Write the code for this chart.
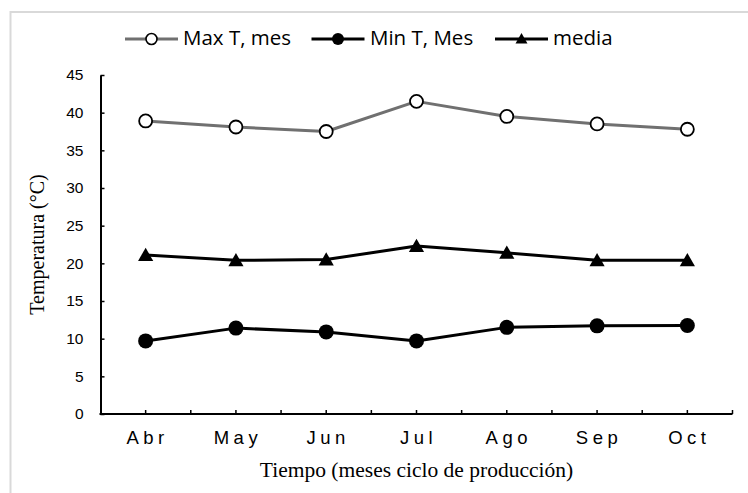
<!DOCTYPE html>
<html>
<head>
<meta charset="utf-8">
<script src="https://cdn.jsdelivr.net/npm/d3@7"></script>
<style>
  body { margin: 0; background: #fff; }
  svg { display: block; }
</style>
</head>
<body>
<div id="chart"></div>
<script>
const months = ['Abr', 'May', 'Jun', 'Jul', 'Ago', 'Sep', 'Oct']
const maxT = [38.9, 38.1, 37.5, 41.5, 39.5, 38.5, 37.8]
const minT = [9.7, 11.4, 10.9, 9.7, 11.5, 11.7, 11.75]
const media = [21.1, 20.4, 20.5, 22.3, 21.4, 20.4, 20.4]
const yTicks = [0, 5, 10, 15, 20, 25, 30, 35, 40, 45]

const width = 748
const height = 493
const margin = { top: 75, left: 100.5, right: 15.5, bottom: 79 }

const svg = d3
  .select('#chart')
  .append('svg')
  .attr('width', width)
  .attr('height', height)

// chart area frame (only top/left edges visible in the crop)
svg
  .append('rect')
  .attr('x', 10.5)
  .attr('y', 12)
  .attr('width', 760)
  .attr('height', 520)
  .attr('fill', 'none')
  .attr('stroke', '#d9d9d9')
  .attr('stroke-width', 2)

const x = d3
  .scaleBand()
  .domain(months)
  .range([margin.left, width - margin.right])

const y = d3
  .scaleLinear()
  .domain([0, 45])
  .range([height - margin.bottom, margin.top])

const cx = m => x(m) + x.bandwidth() / 2

// y axis
svg
  .append('g')
  .attr('transform', `translate(${margin.left},0)`)
  .call(
    d3
      .axisLeft(y)
      .tickValues(yTicks)
      .tickSizeInner(-4)
      .tickSizeOuter(0)
      .tickPadding(17)
  )
  .call(g => g.select('.domain').attr('stroke', '#000').attr('stroke-width', 2))
  .call(g => g.selectAll('.tick line').attr('stroke', '#000').attr('stroke-width', 1.5))
  .call(g =>
    g
      .selectAll('.tick text')
      .attr('font-family', 'Liberation Sans, Arial, sans-serif')
      .attr('font-size', 15.5)
      .attr('fill', '#000')
  )

// x axis line + ticks at band edges and centres
const x0 = y(0)
svg
  .append('line')
  .attr('x1', margin.left - 1)
  .attr('x2', width - margin.right)
  .attr('y1', x0)
  .attr('y2', x0)
  .attr('stroke', '#000')
  .attr('stroke-width', 2)

const tickXs = []
months.forEach(m => {
  tickXs.push(x(m) + x.bandwidth() / 2)
  tickXs.push(x(m) + x.bandwidth())
})
svg
  .selectAll('.xtick')
  .data(tickXs)
  .join('line')
  .attr('class', 'xtick')
  .attr('x1', d => d)
  .attr('x2', d => d)
  .attr('y1', x0)
  .attr('y2', x0 - 4)
  .attr('stroke', '#000')
  .attr('stroke-width', 1.5)

svg
  .selectAll('.xlabel')
  .data(months)
  .join('text')
  .attr('class', 'xlabel')
  .attr('x', d => cx(d) + 2)
  .attr('y', x0 + 30)
  .attr('text-anchor', 'middle')
  .attr('font-family', 'Liberation Sans, Arial, sans-serif')
  .attr('font-size', 18.5)
  .attr('letter-spacing', 4.5)
  .text(d => d)

// axis titles
svg
  .append('text')
  .attr('x', (margin.left + width - margin.right) / 2)
  .attr('y', 477)
  .attr('text-anchor', 'middle')
  .attr('font-family', 'Liberation Serif, Times New Roman, serif')
  .attr('font-size', 21.5)
  .text('Tiempo (meses ciclo de producción)')

svg
  .append('text')
  .attr('transform', `translate(44,${y(22.5)}) rotate(-90)`)
  .attr('text-anchor', 'middle')
  .attr('font-family', 'Liberation Serif, Times New Roman, serif')
  .attr('font-size', 20)
  .text('Temperatura (°C)')

// series
const series = [
  { name: 'Max T, mes', values: maxT, color: '#707070', marker: 'open' },
  { name: 'Min T, Mes', values: minT, color: '#000', marker: 'dot' },
  { name: 'media', values: media, color: '#000', marker: 'tri' }
]

const line = d3
  .line()
  .x((d, i) => cx(months[i]))
  .y(d => y(d))

const tri = d3.symbol(d3.symbolTriangle, 100)
const triSmall = d3.symbol(d3.symbolTriangle, 62)

function drawMarker(g, type, small) {
  if (type === 'open') {
    g.append('circle')
      .attr('r', small ? 5.5 : 6.5)
      .attr('fill', '#fff')
      .attr('stroke', '#000')
      .attr('stroke-width', small ? 1.6 : 1.8)
  } else if (type === 'dot') {
    g.append('circle').attr('r', small ? 6 : 7.5).attr('fill', '#000')
  } else {
    g.append('path')
      .attr('d', small ? triSmall() : tri())
      .attr('transform', `translate(0,${small ? 1 : 1.5})`)
      .attr('fill', '#000')
  }
}

series.forEach(s => {
  svg
    .append('path')
    .datum(s.values)
    .attr('d', line)
    .attr('fill', 'none')
    .attr('stroke', s.color)
    .attr('stroke-width', 3)
    .attr('stroke-linejoin', 'round')

  s.values.forEach((v, i) => {
    const g = svg
      .append('g')
      .attr('transform', `translate(${cx(months[i])},${y(v)})`)
    drawMarker(g, s.marker, false)
  })
})

// legend
const legendItems = [
  { x: 125, textX: 183 },
  { x: 311.5, textX: 370 },
  { x: 495, textX: 553 }
]
series.forEach((s, i) => {
  const item = legendItems[i]
  const g = svg.append('g')
  g.append('line')
    .attr('x1', item.x)
    .attr('x2', item.x + 53)
    .attr('y1', 39)
    .attr('y2', 39)
    .attr('stroke', s.color)
    .attr('stroke-width', 3)
  const mg = g.append('g').attr('transform', `translate(${item.x + 26.5},39)`)
  drawMarker(mg, s.marker, true)
  g.append('text')
    .attr('x', item.textX)
    .attr('y', 44.5)
    .attr('font-family', 'Open Sans, Noto Sans, sans-serif')
    .attr('font-size', 20.5)
    .text(s.name)
})
</script>
</body>
</html>
